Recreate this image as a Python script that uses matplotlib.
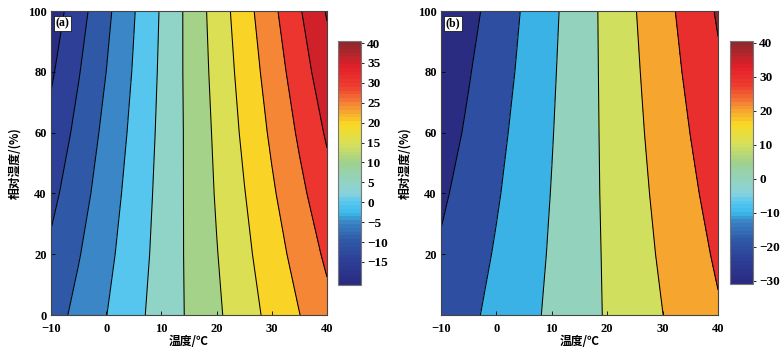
import matplotlib
matplotlib.use('Agg')
import matplotlib.pyplot as plt
import numpy as np
from matplotlib.colors import LinearSegmentedColormap, ListedColormap, Normalize
from matplotlib.cm import ScalarMappable

plt.rcParams['font.family'] = ['Liberation Serif', 'Noto Sans CJK SC']
plt.rcParams['font.weight'] = 'bold'

# ── Dati ───────────────────────────────────────────────────────────
temp = [-10, -5, 0, 5, 10, 15, 20, 25, 30, 35, 40]
rh = [0, 20, 40, 60, 80, 100]

# (a) righe = umidità, colonne = temperatura
val_a = [
    [-7.2, -3.6, -0.1, 3.5, 7.1, 10.6, 14.2, 17.8, 21.4, 24.9, 28.5],
    [-9.1, -5.3, -1.3, 2.7, 6.7, 10.8, 14.8, 18.8, 22.8, 26.8, 30.9],
    [-11.3, -7.0, -2.5, 2.0, 6.4, 10.9, 15.4, 19.8, 24.3, 28.8, 33.2],
    [-13.5, -8.6, -3.7, 1.2, 6.1, 11.0, 15.9, 20.9, 25.8, 30.7, 35.6],
    [-15.7, -10.3, -5.0, 0.4, 5.8, 11.2, 16.5, 21.9, 27.2, 32.6, 38.0],
    [-17.8, -12.0, -6.2, -0.3, 5.5, 11.3, 17.1, 22.9, 28.7, 34.5, 40.4],
]
# (b)
val_b = [
    [-16.5, -11.9, -7.4, -2.8, 1.7, 6.3, 10.8, 15.4, 19.9, 24.5, 29.0],
    [-18.9, -14.2, -9.1, -4.1, 1.0, 6.1, 11.1, 16.2, 21.3, 26.3, 31.4],
    [-21.5, -16.5, -10.9, -5.3, 0.3, 5.9, 11.5, 17.1, 22.6, 28.2, 33.8],
    [-24.3, -18.6, -12.6, -6.5, -0.4, 5.7, 11.8, 17.9, 24.0, 30.1, 36.2],
    [-27.1, -20.6, -14.4, -7.8, -1.1, 5.5, 12.1, 18.7, 25.4, 32.0, 38.6],
    [-29.8, -22.9, -16.2, -9.0, -1.9, 5.3, 12.4, 19.6, 26.7, 33.9, 41.0],
]

levels_a = list(range(-20, 50, 5))
levels_b = list(range(-40, 60, 10))
clim_a = (-20.8, 40.5)
clim_b = (-31.0, 40.5)
cbar_ticks_a = list(range(-15, 45, 5))
cbar_ticks_b = list(range(-30, 50, 10))
xticks = [-10, 0, 10, 20, 30, 40]
yticks_a = [0, 20, 40, 60, 80, 100]
yticks_b = [20, 40, 60, 80, 100]

# ── Colormap ──────────────────────────────────────────────────────
anchors = [
    (0.00, '#2a2c82'), (0.095, '#2d3f97'), (0.176, '#2f5aa8'),
    (0.258, '#3a88c8'), (0.29, '#3ab8ea'), (0.34, '#5bc8ef'),
    (0.37, '#88d2de'), (0.42, '#92d3c3'), (0.50, '#9dd08f'),
    (0.58, '#d6e05a'), (0.66, '#f9d923'), (0.74, '#f48b35'),
    (0.82, '#ee3e30'), (0.90, '#e31f2a'), (1.00, '#8c2a2e'),
]
base = LinearSegmentedColormap.from_list('meteo', anchors)
cmap = ListedColormap(base(np.linspace(0, 1, 64)))

fig = plt.figure(figsize=(7.83, 3.53), dpi=100)

panels = [
    ('(a)', val_a, levels_a, clim_a, cbar_ticks_a, yticks_a,
     [0.0651, 0.1076, 0.3525, 0.861], [0.4317, 0.1926, 0.0294, 0.691]),
    ('(b)', val_b, levels_b, clim_b, cbar_ticks_b, yticks_b,
     [0.5632, 0.1076, 0.3538, 0.861], [0.9323, 0.1955, 0.0294, 0.688]),
]

cjk = ['Noto Sans CJK SC', 'DejaVu Sans']

for tag, vals, levels, clim, cticks, yticks, pos, cpos in panels:
    ax = fig.add_axes(pos)
    norm = Normalize(*clim)
    Z = np.array(vals)
    fill_cols = [cmap(norm(l)) for l in levels[:-1]]
    ax.contourf(temp, rh, Z, levels=levels, colors=fill_cols)
    ax.contour(temp, rh, Z, levels=levels, colors='k', linewidths=0.75,
               linestyles='solid')

    ax.set_xlim(-10, 40)
    ax.set_ylim(0, 100)
    ax.set_xticks(xticks)
    ax.set_yticks(yticks)
    ax.tick_params(direction='in', length=3, width=0.6, labelsize=9)
    ax.tick_params(axis='x', pad=6)
    ax.tick_params(axis='y', pad=3)
    for s in ax.spines.values():
        s.set_color('#444444')
        s.set_linewidth(0.8)
    ax.set_xlabel('温度/℃', family=cjk, fontsize=8.5, fontweight='bold', labelpad=0)
    ax.set_ylabel('相对湿度/(%)', family=cjk, fontsize=8.5, fontweight='bold', labelpad=5)
    ax.text(0.016, 0.978, tag, transform=ax.transAxes, ha='left', va='top',
            fontsize=8.5, fontweight='bold',
            bbox=dict(facecolor='white', edgecolor='black', linewidth=0.5, pad=1.2))

    cax = fig.add_axes(cpos)
    sm = ScalarMappable(norm=norm, cmap=cmap)
    cb = fig.colorbar(sm, cax=cax, ticks=cticks)
    cb.outline.set_edgecolor('#777777')
    cb.outline.set_linewidth(0.8)
    cax.tick_params(direction='out', length=2.5, width=0.6, labelsize=9.5, pad=2)

fig.savefig('out.png', dpi=100)
